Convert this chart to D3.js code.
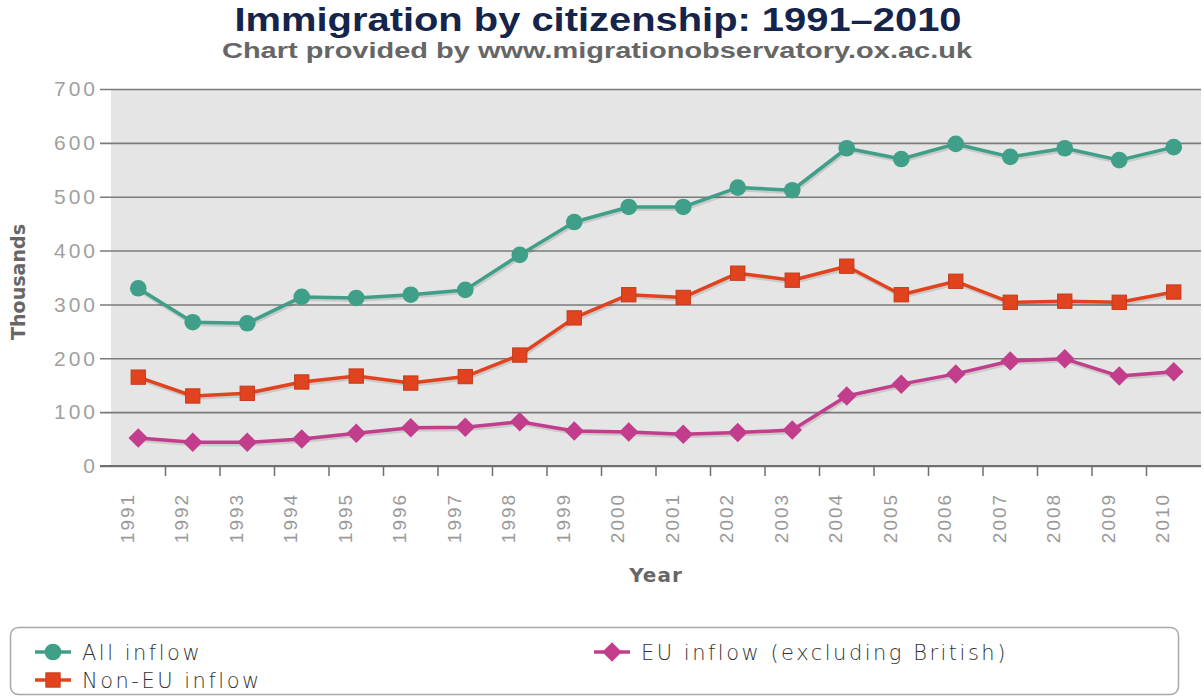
<!DOCTYPE html>
<html>
<head>
<meta charset="utf-8">
<script src="https://cdn.jsdelivr.net/npm/d3@7"></script>
<style>
  body { margin: 0; background: #fff; }
  svg { display: block; font-family: "DejaVu Sans", sans-serif; }
</style>
</head>
<body>
<script>
// Chart data
const years = ["1991","1992","1993","1994","1995","1996","1997","1998","1999","2000",
               "2001","2002","2003","2004","2005","2006","2007","2008","2009","2010"];
const allInflow = [330, 267, 265, 314, 312, 318, 327, 392, 453, 481,
                   481, 517, 512, 590, 570, 598, 574, 590, 568, 592];
const nonEuInflow = [165, 130, 135, 156, 167, 154, 166, 206, 275, 318,
                     313, 358, 345, 371, 318, 343, 304, 306, 304, 323];
const euInflow = [52, 44, 44, 50, 61, 71, 72, 82, 65, 63,
                  59, 62, 67, 130, 152, 171, 195, 199, 167, 175];
const yTicks = [0, 100, 200, 300, 400, 500, 600, 700];

const series = [
    { name: "All inflow", values: allInflow, color: "#3f9f88", shape: "circle" },
    { name: "Non-EU inflow", values: nonEuInflow, color: "#e2431f", shape: "square" },
    { name: "EU inflow (excluding British)", values: euInflow, color: "#c23d8b", shape: "diamond" }
];

const width = 1204;
const height = 697;
const marginLeft = 111;
const marginRight = 3;
const marginTop = 89;
const plotBottom = 466;

const svg = d3.select("body").append("svg")
    .attr("width", width)
    .attr("height", height);

// Scales
const x = d3.scaleBand()
    .domain(years)
    .range([marginLeft, width - marginRight]);

const y = d3.scaleLinear()
    .domain([0, 700])
    .range([plotBottom, marginTop]);

// Title
svg.append("text")
    .attr("x", 598)
    .attr("y", 31)
    .attr("text-anchor", "middle")
    .attr("fill", "#14244a")
    .style("font-family", "'Liberation Sans', sans-serif")
    .style("font-size", "33px")
    .style("font-weight", "bold")
    .attr("textLength", 727)
    .attr("lengthAdjust", "spacingAndGlyphs")
    .text("Immigration by citizenship: 1991\u20132010");

svg.append("text")
    .attr("x", 597)
    .attr("y", 58)
    .attr("text-anchor", "middle")
    .attr("fill", "#666")
    .style("font-family", "'Liberation Sans', sans-serif")
    .style("font-size", "22px")
    .style("font-weight", "bold")
    .attr("textLength", 750)
    .attr("lengthAdjust", "spacingAndGlyphs")
    .text("Chart provided by www.migrationobservatory.ox.ac.uk");

// Plot background
svg.append("rect")
    .attr("x", marginLeft)
    .attr("y", marginTop)
    .attr("width", width - marginRight - marginLeft)
    .attr("height", plotBottom - marginTop)
    .attr("fill", "#e5e5e5");

// Y gridlines + labels
const yAxis = svg.append("g")
    .attr("transform", `translate(${marginLeft},0)`)
    .call(d3.axisLeft(y)
        .tickValues(yTicks)
        .tickSize(-(width - marginRight - marginLeft))
        .tickSizeOuter(0)
        .tickPadding(13));
yAxis.select(".domain").remove();
yAxis.selectAll(".tick line")
    .attr("x1", -11)
    .attr("stroke", "#7a7a7a")
    .attr("stroke-width", 1.6);
yAxis.selectAll(".tick text")
    .attr("fill", "#a0a0a0")
    .style("font-size", "21px")
    .style("font-weight", "300")
    .style("letter-spacing", "3px");

// X axis
const xAxis = svg.append("g")
    .attr("transform", `translate(0,${plotBottom})`)
    .call(d3.axisBottom(x).tickSize(0).tickSizeOuter(0));
xAxis.select(".domain")
    .attr("d", `M${marginLeft - 11},0H${width - marginRight}`)
    .attr("stroke", "#6f6f6f")
    .attr("stroke-width", 2);
// ticks between categories
xAxis.selectAll(".sep")
    .data(years.slice(1))
    .join("line")
    .attr("class", "sep")
    .attr("x1", d => x(d))
    .attr("x2", d => x(d))
    .attr("y1", 0)
    .attr("y2", 10)
    .attr("stroke", "#6f6f6f")
    .attr("stroke-width", 1.5);
xAxis.selectAll(".tick text")
    .attr("transform", "rotate(-90)")
    .attr("x", -52)
    .attr("y", -11)
    .attr("dy", "0.35em")
    .attr("text-anchor", "middle")
    .attr("fill", "#9a9a9a")
    .style("font-size", "19px")
    .style("font-weight", "300")
    .style("letter-spacing", "2px");

// Axis titles
svg.append("text")
    .attr("x", (marginLeft + width - marginRight) / 2)
    .attr("y", 582)
    .attr("text-anchor", "middle")
    .attr("fill", "#666")
    .style("font-size", "20px")
    .style("font-weight", "bold")
    .style("letter-spacing", "1px")
    .text("Year");

svg.append("text")
    .attr("transform", "translate(25,282) rotate(-90)")
    .attr("text-anchor", "middle")
    .attr("fill", "#666")
    .style("font-size", "20px")
    .style("font-weight", "bold")
    .attr("textLength", 116)
    .attr("lengthAdjust", "spacingAndGlyphs")
    .text("Thousands");

// Markers
function drawMarker(g, shape, color, size) {
    if (shape === "circle") {
        g.append("circle").attr("r", size * 0.64).attr("fill", color);
    } else if (shape === "square") {
        g.append("rect")
            .attr("x", -size * 0.55).attr("y", -size * 0.55)
            .attr("width", size * 1.1).attr("height", size * 1.1)
            .attr("fill", color)
            .attr("stroke", d3.color(color).darker(0.4))
            .attr("stroke-width", 1);
    } else {
        const s = size * 0.75;
        g.append("path")
            .attr("d", `M0,${-s}L${s},0L0,${s}L${-s},0Z`)
            .attr("fill", color);
    }
}

const cx = d => x(d) + x.bandwidth() / 2;

series.forEach(s => {
    const pts = years.map((yr, i) => [cx(yr), y(s.values[i])]);
    const line = d3.line();

    // faint shadow
    svg.append("path")
        .attr("d", line(pts))
        .attr("transform", "translate(1,2)")
        .attr("fill", "none")
        .attr("stroke", "rgba(0,0,0,0.12)")
        .attr("stroke-width", 4);

    svg.append("path")
        .attr("d", line(pts))
        .attr("fill", "none")
        .attr("stroke", s.color)
        .attr("stroke-width", 3.5)
        .attr("stroke-linejoin", "round");

    svg.append("g")
        .selectAll("g")
        .data(years)
        .join("g")
        .attr("transform", (d, i) => `translate(${cx(d)},${y(s.values[i])})`)
        .each(function() { drawMarker(d3.select(this), s.shape, s.color, 13); });
});

// Legend
svg.append("rect")
    .attr("x", 10.5)
    .attr("y", 627.5)
    .attr("width", 1168)
    .attr("height", 67)
    .attr("rx", 8)
    .attr("fill", "#fff")
    .attr("stroke", "#a8a8a8")
    .attr("stroke-width", 1.5);

const legendPos = [[53, 652], [53, 680], [612, 652]];
series.forEach((s, i) => {
    const [lx, ly] = legendPos[i];
    const g = svg.append("g").attr("transform", `translate(${lx},${ly})`);
    g.append("line")
        .attr("x1", -18).attr("x2", 18)
        .attr("stroke", s.color)
        .attr("stroke-width", 3.5);
    drawMarker(g, s.shape, s.color, 13);
    g.append("text")
        .attr("x", 29)
        .attr("dy", "0.36em")
        .attr("fill", "#333")
        .style("font-size", "21px")
        .style("font-weight", "300")
        .style("letter-spacing", "2.5px")
        .text(s.name);
});
</script>
</body>
</html>
